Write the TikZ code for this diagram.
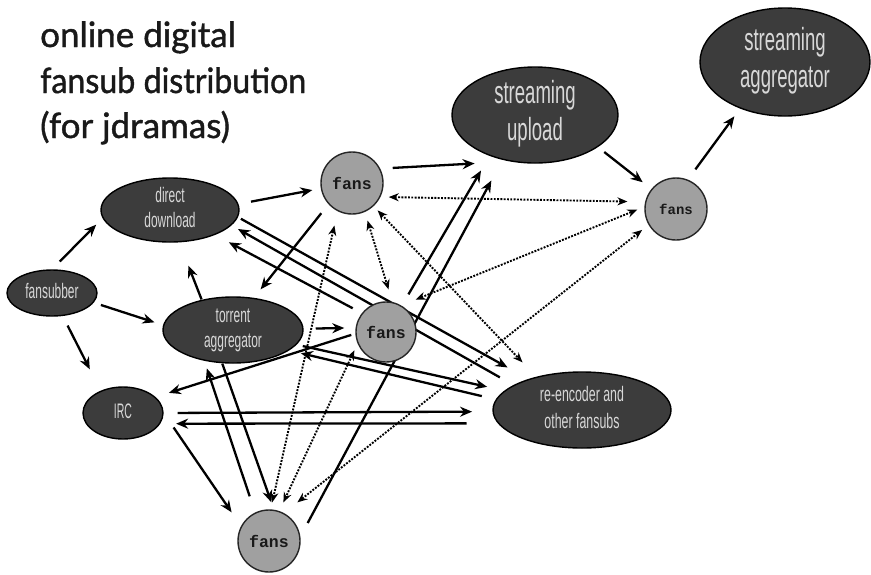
\documentclass[tikz,border=0pt]{standalone}
\usepackage{fontspec}
\usepackage{graphicx}
\setmainfont{Liberation Sans}
\newfontfamily\titlefont{Lato}[FakeBold=1.2]
\newfontfamily\fansfont{Liberation Mono}
\usetikzlibrary{shapes.geometric,arrows.meta}
\pgfdeclarelayer{bg}
\pgfsetlayers{bg,main}
\definecolor{ellfill}{HTML}{3C3C3C}
\definecolor{fanfill}{HTML}{A0A0A0}
\definecolor{labtext}{HTML}{D8D8D8}
\newcommand{\sqz}[2][0.57]{\scalebox{#1}[1]{\begin{tabular}{@{}c@{}}#2\end{tabular}}}
\begin{document}
\begin{tikzpicture}[x=1pt,y=-1pt,
  ell/.style={ellipse, draw=black, line width=1.4pt, fill=ellfill, inner sep=0pt},
  lab/.style={text=labtext, inner sep=0pt, font=\fontsize{21}{25}\selectfont},
  biglab/.style={text=labtext, inner sep=0pt, font=\fontsize{32}{37}\selectfont},
  fan/.style={circle, draw=black!85, line width=1.4pt, fill=fanfill, minimum size=62pt, inner sep=0pt, font=\fansfont\bfseries\fontsize{16.5}{16}\selectfont, text=black!90},
  arr/.style={line width=2.3pt, -{Stealth[length=12pt,width=10pt]}},
  dot/.style={line width=1.9pt, dash pattern=on 1.9pt off 1.4pt, {Stealth[length=10pt,width=8pt]}-{Stealth[length=10pt,width=8pt]}},
  ttl/.style={anchor=base west, inner sep=0pt, font=\titlefont\fontsize{35}{42}\selectfont, text=black!90}
]
\useasboundingbox (0,0) rectangle (871,574);

% title
\node[ttl] (t1) at (40,47) {online digital};
\node[ttl] (t2) at (40,93) {\scalebox{0.92}[1]{fansub distribution}};
\node[ttl] (t3) at (40,138) {(for jdramas)};

% ellipses
\node[ell, minimum width=138pt, minimum height=64pt, label={[lab]center:{\sqz{direct\\download}}}] (dd) at (170,210) {};
\node[ell, minimum width=90pt, minimum height=46pt, label={[lab]center:{\sqz{fansubber}}}] (fsb) at (52,293) {};
\node[ell, minimum width=140pt, minimum height=66pt, label={[lab]center:{\sqz{torrent\\aggregator}}}] (ta) at (233,330) {};
\node[ell, minimum width=80pt, minimum height=52pt, label={[lab]center:{\sqz[0.5]{IRC}}}] (irc) at (123,413) {};
\node[ell, minimum width=178pt, minimum height=76pt, label={[lab, font=\fontsize{21}{27}\selectfont]center:{\sqz[0.59]{re-encoder and\\other fansubs}}}] (re) at (582,410) {};
\node[ell, minimum width=166pt, minimum height=96pt, label={[biglab]center:{\sqz[0.58]{streaming\\upload}}}] (su) at (535,115) {};
\node[ell, minimum width=170pt, minimum height=108pt, label={[biglab]center:{\sqz[0.58]{streaming\\aggregator}}}] (sa) at (785,62) {};

% fans
\node[fan] (ft) at (352,183) {fans};
\node[fan, minimum size=60pt] (fm) at (386,332) {fans};
\node[fan, font=\fansfont\bfseries\fontsize{14}{14}\selectfont] (fr) at (676,209) {fans};
\node[fan] (fb) at (269,541) {fans};

\begin{pgfonlayer}{bg}
\fill[white] (0,0) rectangle (871,574);
% solid arrows
\draw[arr, shorten <=11pt, shorten >=9pt] (fsb.90) -- (dd.187.3);
\draw[arr, shorten <=7.5pt, shorten >=9pt] (fsb.-13.3) -- (ta.176.5);
\draw[arr, shorten <=10.7pt, shorten >=24pt] (fsb.-65.8) -- (irc.135.7);
\draw[arr, shorten <=0.4pt, shorten >=25pt] (ta.136.2) -- (dd.-74.7);
\draw[arr, shorten <=12.7pt, shorten >=8.6pt] (dd.5.8) -- (ft.190.2);
\draw[arr, shorten <=11.5pt, shorten >=10.8pt] (ft.222.6) -- (ta.57.4);
\draw[arr, shorten <=12.5pt, shorten >=35.7pt] (ft.27.4) -- (su.242);
\draw[arr, shorten <=13.1pt, shorten >=16.9pt] (fm.59.2) -- (su.222.4);
\draw[arr, shorten <=15.4pt, shorten >=23.4pt] (fb.8.2) -- (su.234.3);
\draw[arr, shorten <=8pt, shorten >=11pt] (su.-27.5) -- (fr.141.5);
\draw[arr, shorten <=12.7pt, shorten >=9.6pt] (fr.68.4) -- (sa.226.3);
\draw[arr, shorten <=3.3pt, shorten >=23.7pt] (dd.-6.3) -- (re.150.2);
\draw[arr, shorten <=15.6pt, shorten >=7.4pt] (re.160.4) -- (dd.-14.3);
\draw[arr, shorten <=10.3pt, shorten >=15.7pt] (fm.142.9) -- (dd.-29.1);
\draw[arr, shorten <=6.3pt, shorten >=17.6pt] (ta.-13.1) -- (re.166);
\draw[arr, shorten <=14.3pt, shorten >=12pt] (re.173.6) -- (ta.-20.1);
\draw[arr, shorten <=12.1pt, shorten >=11.3pt] (ta.1.6) -- (fm.172.3);
\draw[arr, shorten <=4.25pt, shorten >=13.9pt] (fm.183.3) -- (irc.26.5);
\draw[arr, shorten <=14pt, shorten >=20.3pt] (irc.0) -- (re.181.9);
\draw[arr, shorten <=31.3pt, shorten >=15.8pt] (re.189.6) -- (irc.-16.9);
\draw[arr, shorten <=17.5pt, shorten >=16.7pt] (irc.-0.9) -- (fb.152.7);
\draw[arr, shorten <=17.1pt, shorten >=8pt] (fb.116.3) -- (ta.227.9);
\draw[arr, shorten <=0.4pt, shorten >=7.8pt] (ta.252.8) -- (fb.81.6);
% dotted two-way arrows
\draw[dot, shorten <=8.25pt, shorten >=17.7pt] (ft.-26.4) -- (fr.167.7);
\draw[dot, shorten <=15.5pt, shorten >=7.6pt] (fm.60.9) -- (fr.176.7);
\draw[dot, shorten <=17.2pt, shorten >=8.2pt] (fb.62.1) -- (fr.210.9);
\draw[dot, shorten <=5.8pt, shorten >=19.8pt] (ft.-47.4) -- (re.144.2);
\draw[dot, shorten <=9pt, shorten >=13.1pt] (ft.-66.4) -- (fm.78.9);
\draw[dot, shorten <=14.6pt, shorten >=7.2pt] (ft.243.6) -- (fb.87.4);
\draw[dot, shorten <=7.5pt, shorten >=9.5pt] (fm.202) -- (fb.71.2);
\end{pgfonlayer}
\end{tikzpicture}
\end{document}
